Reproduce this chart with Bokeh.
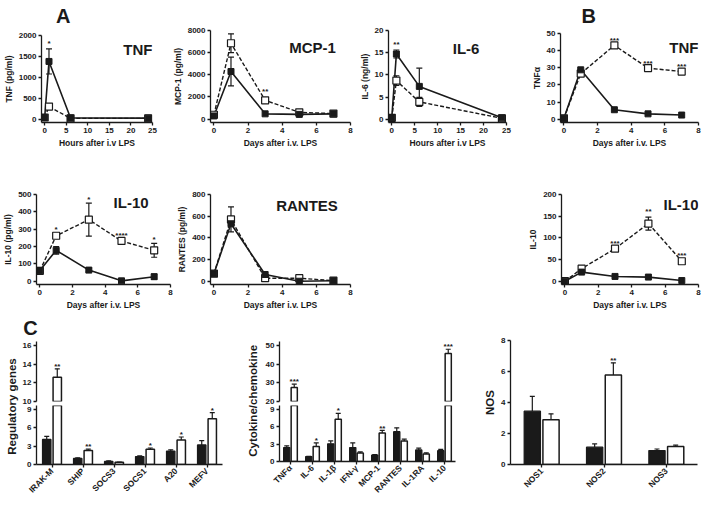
import numpy as np
from math import pi
from bokeh.plotting import figure
from bokeh.models import (Range1d, FactorRange, ColumnDataSource, Whisker, TeeHead,
                          Label, LabelSet, FixedTicker)
from bokeh.layouts import row, column
from bokeh.transform import dodge
from bokeh.core.properties import value
from bokeh.embed import file_html
from bokeh.resources import INLINE

FONT = "Liberation Sans"
INK = "#1a1a1a"

# ---------------- data ----------------
# A: TNF (hours)
tnf_hours = [0, 1, 6, 24]
tnf_ctrl = [40, 1380, 30, 25]
tnf_ctrl_err = [0, 300, 0, 0]
tnf_tol = [40, 300, 20, 20]
tnf_tol_err = [0, 0, 0, 0]
tnf_star_x, tnf_star_y, tnf_star_t = [1], [1800], ["*"]
tnf_xticks = [0, 5, 10, 15, 20, 25]
tnf_yticks = [0, 500, 1000, 1500, 2000]

# A: MCP-1 (days)
mcp_days = [0, 1, 3, 5, 7]
mcp_ctrl = [290, 4300, 480, 430, 480]
mcp_ctrl_err = [0, 1300, 0, 0, 0]
mcp_tol = [400, 6850, 1700, 620, 500]
mcp_tol_err = [0, 850, 0, 0, 0]
mcp_star_x, mcp_star_y, mcp_star_t = [3], [2500], ["**"]
day_xticks = [0, 2, 4, 6, 8]
mcp_yticks = [0, 2000, 4000, 6000, 8000]

# A: IL-6 (hours)
il6_hours = [0, 1, 6, 24]
il6_ctrl = [0.35, 14.7, 7.4, 0.3]
il6_ctrl_err = [0, 0.9, 4.1, 0]
il6_tol = [0.3, 8.7, 3.9, 0.2]
il6_tol_err = [0, 1.1, 1.0, 0]
il6_star_x, il6_star_y, il6_star_t = [1], [16.9], ["**"]
il6_xticks = [0, 5, 10, 15, 20, 25]
il6_yticks = [0, 5, 10, 15, 20]

# B: TNF (days)
btnf_days = [0, 1, 3, 5, 7]
btnf_ctrl = [0.5, 28.8, 5.5, 3.1, 2.4]
btnf_ctrl_err = [0, 0, 0, 0, 0]
btnf_tol = [0.5, 26.6, 43.1, 29.8, 27.8]
btnf_tol_err = [0, 0, 0, 0, 0]
btnf_star_x, btnf_star_y, btnf_star_t = [3, 5, 7], [45.8, 32.6, 30.5], ["***", "***", "***"]
btnf_yticks = [0, 10, 20, 30, 40, 50]

# A: IL-10 (days)
il10_days = [0, 1, 3, 5, 7]
il10_ctrl = [62, 178, 64, 2, 26]
il10_ctrl_err = [0, 22, 8, 0, 15]
il10_tol = [60, 262, 355, 232, 178]
il10_tol_err = [0, 15, 95, 8, 40]
il10_star_x, il10_star_y, il10_star_t = [1, 3, 5, 7], [298, 470, 262, 238], ["*", "*", "****", "*"]
il10_yticks = [0, 100, 200, 300, 400, 500]

# A: RANTES (days)
rantes_days = [0, 1, 3, 5, 7]
rantes_ctrl = [70, 530, 62, 0, 5]
rantes_ctrl_err = [0, 0, 0, 0, 0]
rantes_tol = [70, 570, 28, 28, 5]
rantes_tol_err = [0, 115, 0, 0, 0]
rantes_yticks = [0, 200, 400, 600, 800]

# B: IL-10 (days)
bil10_days = [0, 1, 3, 5, 7]
bil10_ctrl = [0, 21, 11, 9.5, 1.5]
bil10_ctrl_err = [0, 0, 0, 0, 0]
bil10_tol = [0, 29, 75, 133, 46]
bil10_tol_err = [0, 0, 0, 15, 0]
bil10_star_x, bil10_star_y, bil10_star_t = [3, 5, 7], [88, 160, 60], ["***", "**", "***"]
bil10_yticks = [0, 50, 100, 150, 200]

# C: regulatory genes
reg_genes = ["IRAK-M", "SHIP", "SOCS3", "SOCS1", "A20", "MEFV"]
reg_ctrl = [4.1, 1.0, 0.5, 1.3, 2.2, 3.2]
reg_ctrl_err = [0.5, 0.1, 0.1, 0.1, 0.2, 0.7]
reg_tol = [12.6, 2.3, 0.35, 2.5, 4.0, 7.5]
reg_tol_err = [0.9, 0.2, 0.05, 0.2, 0.5, 1.0]
reg_stars = ["**", "**", "", "*", "*", "*"]
reg_low_ticks = [0, 3, 6, 9]
reg_up_ticks = [10, 12, 14, 16]

# C: cytokine / chemokine
cyt_names = ["TNFα", "IL-6", "IL-1β", "IFN-γ", "MCP-1", "RANTES", "IL-1RA", "IL-10"]
cyt_ctrl = [2.4, 0.85, 3.05, 2.4, 1.1, 5.15, 2.0, 1.85]
cyt_ctrl_err = [0.3, 0.05, 0.5, 0.8, 0.1, 0.65, 0.3, 0.25]
cyt_tol = [27.5, 2.6, 7.3, 1.45, 4.9, 3.55, 1.3, 45.7]
cyt_tol_err = [1.8, 0.6, 1.0, 0.2, 0.45, 0.3, 0.2, 2.3]
cyt_stars = ["***", "*", "*", "", "**", "", "", "***"]
cyt_low_ticks = [0, 3, 6, 9]
cyt_up_ticks = [20, 30, 40, 50]

# C: NOS
nos_names = ["NOS1", "NOS2", "NOS3"]
nos_ctrl = [3.44, 1.12, 0.9]
nos_ctrl_err = [0.95, 0.21, 0.1]
nos_tol = [2.88, 5.78, 1.16]
nos_tol_err = [0.39, 0.78, 0.09]
nos_stars = ["", "**", ""]
nos_ticks = [0, 2, 4, 6, 8]


# ---------------- helpers ----------------
def base_fig(w, h, l, r, t, b, xr, yr, **kw):
    p = figure(width=w, height=h, x_range=xr, y_range=yr, output_backend="svg",
               toolbar_location=None, min_border_left=l, min_border_right=r,
               min_border_top=t, min_border_bottom=b, **kw)
    p.outline_line_color = None
    p.grid.visible = False
    p.border_fill_color = "white"
    p.background_fill_color = "white"
    for ax in p.axis:
        ax.axis_line_color = INK
        ax.axis_line_width = 1.3
        ax.major_tick_line_color = INK
        ax.major_tick_line_width = 1.3
        ax.major_tick_out = 3
        ax.major_tick_in = 0
        ax.minor_tick_line_color = None
        ax.major_label_text_font = FONT
        ax.major_label_text_font_size = "8px"
        ax.major_label_text_font_style = "bold"
        ax.major_label_text_color = INK
        ax.major_label_standoff = 2
        ax.axis_label_text_font = FONT
        ax.axis_label_text_font_size = "8.5px"
        ax.axis_label_text_font_style = "bold"
        ax.axis_label_text_color = INK
        ax.axis_label_standoff = 2
    return p


def add_label(p, x, y, text, size="15px", align="right", angle=0):
    p.add_layout(Label(x=x, y=y, text=text, text_font=FONT,
                       text_font_size=size, text_font_style="bold", text_color=INK,
                       text_align=align, text_baseline="middle", angle=angle))


def add_err(p, x, vals, errs):
    idx = [i for i in range(len(vals)) if errs[i] > 0]
    if not idx:
        return
    src = ColumnDataSource(dict(x=[x[i] for i in idx],
                                up=[vals[i] + errs[i] for i in idx],
                                lo=[vals[i] - errs[i] for i in idx]))
    p.add_layout(Whisker(source=src, base="x", upper="up", lower="lo",
                         line_color=INK, line_width=1.2,
                         upper_head=TeeHead(size=6, line_color=INK, line_width=1.2),
                         lower_head=TeeHead(size=6, line_color=INK, line_width=1.2)))


def add_stars(p, xs, ys, ts):
    src = ColumnDataSource(dict(x=xs, y=ys, t=ts))
    p.add_layout(LabelSet(x="x", y="y", text="t", source=src,
                          text_font=value(FONT), text_font_size=value("8px"),
                          text_font_style="bold", text_color=INK, text_align="center",
                          text_baseline="middle"))


def line_panel(w, h, l, r, t, b, xticks, yticks, xlabel, ylabel, x, ctrl, cerr, tol, terr):
    W = w - l - r
    H = h - t - b
    xmax, ymax = xticks[-1], yticks[-1]
    p = base_fig(w, h, l, r, t, b, Range1d(-3.5 * xmax / W, xmax), Range1d(-3.5 * ymax / H, ymax))
    p.xaxis.ticker = FixedTicker(ticks=xticks)
    p.yaxis.ticker = FixedTicker(ticks=yticks)
    p.xaxis.axis_label = xlabel
    p.yaxis.axis_label = ylabel
    p.line(x, tol, line_dash="4 2", line_width=1.4, line_color=INK)
    p.line(x, ctrl, line_width=1.6, line_color=INK)
    add_err(p, x, ctrl, cerr)
    add_err(p, x, tol, terr)
    p.scatter(x, tol, marker="square", size=7, fill_color="white", line_color=INK, line_width=1.2)
    p.scatter(x, ctrl, marker="square", size=6, fill_color=INK, line_color=INK)
    return p


def bar_panel(w, h, l, r, t, b, xr, yticks, cats, ctrl, cerr, tol, terr, stars, show_x, d, bw,
              ylabel=None, ylabel_size="11.5px", ext=0):
    y0, y1 = yticks[0], yticks[-1]
    H = h - t - b                      # frame height spanned by the ticks
    upp = (y1 - y0) / H                # data units per pixel
    p = base_fig(w, h, l, r, t - ext, b, xr, Range1d(y0, y1 + ext * upp))
    p.yaxis.ticker = FixedTicker(ticks=yticks)
    if show_x:
        p.xaxis.major_label_orientation = pi / 4
        p.xaxis.major_label_text_font_size = "8.5px"
    else:
        p.xaxis.visible = False
    if ylabel:
        p.yaxis.axis_label = ylabel
        p.yaxis.axis_label_text_font_size = ylabel_size
    for off, vals, errs, fill, lw in [(-d, ctrl, cerr, INK, 1.3), (d, tol, terr, "white", 1.5)]:
        bars = [i for i in range(len(cats)) if vals[i] > y0]
        if bars:
            bsrc = ColumnDataSource(dict(cat=[cats[i] for i in bars], top=[vals[i] for i in bars]))
            p.vbar(x=dodge("cat", off, range=xr), top="top", bottom=0, width=bw, source=bsrc,
                   fill_color=fill, line_color=INK, line_width=lw)
        keep = [i for i in range(len(cats)) if y0 <= vals[i] + errs[i] <= y1 and errs[i] > 0]
        if keep:
            wsrc = ColumnDataSource(dict(cat=[cats[i] for i in keep],
                                         up=[vals[i] + errs[i] for i in keep],
                                         lo=[vals[i] for i in keep]))
            p.add_layout(Whisker(source=wsrc, base=dodge("cat", off, range=xr), upper="up", lower="lo",
                                 line_color=INK, line_width=1.2,
                                 upper_head=TeeHead(size=5, line_color=INK, line_width=1.2),
                                 lower_head=None))
    keep = [i for i in range(len(cats)) if stars[i] and y0 <= tol[i] + terr[i] <= y1]
    if keep:
        ssrc = ColumnDataSource(dict(cat=[cats[i] for i in keep],
                                     y=[tol[i] + terr[i] + 2.5 * upp for i in keep],
                                     t=[stars[i] for i in keep]))
        p.add_layout(LabelSet(x=dodge("cat", d, range=xr), y="y", text="t", source=ssrc,
                              text_font=value(FONT), text_font_size=value("8px"),
                              text_font_style="bold", text_color=INK, text_align="center",
                              text_baseline="middle"))
    return p


def blank_fig(w, h):
    p = figure(width=w, height=h, x_range=Range1d(0, w), y_range=Range1d(0, h),
               x_axis_type=None, y_axis_type=None, output_backend="svg", toolbar_location=None,
               min_border_left=0, min_border_right=0, min_border_top=0, min_border_bottom=0)
    p.outline_line_color = None
    p.border_fill_color = "white"
    p.background_fill_color = "white"
    return p


def label_fig(w, h, x, y, text):
    p = blank_fig(w, h)
    add_label(p, x, y, text, size="11.5px", align="center", angle=pi / 2)
    return p


def letter_fig(w, h, x, y, text):
    p = blank_fig(w, h)
    add_label(p, x, y, text, size="20px", align="center")
    return p


HOURS = "Hours after i.v LPS"
DAYS = "Days after i.v. LPS"

# ---------------- row 1 ----------------
f_tnf = line_panel(164, 124, 33, 12, 9, 27, tnf_xticks, tnf_yticks, HOURS, "TNF (pg/ml)",
                   tnf_hours, tnf_ctrl, tnf_ctrl_err, tnf_tol, tnf_tol_err)
add_stars(f_tnf, tnf_star_x, tnf_star_y, tnf_star_t)
add_label(f_tnf, 25, 1660, "TNF")
strip_a = letter_fig(164, 26, 32, 11, "A")

f_mcp = line_panel(192, 150, 46, 6, 30, 27, day_xticks, mcp_yticks, DAYS, "MCP-1 (pg/ml)",
                   mcp_days, mcp_ctrl, mcp_ctrl_err, mcp_tol, mcp_tol_err)
add_stars(f_mcp, mcp_star_x, mcp_star_y, mcp_star_t)
add_label(f_mcp, 7.14, 6450, "MCP-1")

f_il6 = line_panel(166, 150, 28, 16, 29, 27, il6_xticks, il6_yticks, HOURS, "IL-6 (ng/ml)",
                   il6_hours, il6_ctrl, il6_ctrl_err, il6_tol, il6_tol_err)
add_stars(f_il6, il6_star_x, il6_star_y, il6_star_t)
add_label(f_il6, 19.1, 16, "IL-6")

f_btnf = line_panel(179, 124, 38, 3, 7, 27, day_xticks, btnf_yticks, DAYS, "TNFα",
                    btnf_days, btnf_ctrl, btnf_ctrl_err, btnf_tol, btnf_tol_err)
add_stars(f_btnf, btnf_star_x, btnf_star_y, btnf_star_t)
add_label(f_btnf, 8, 42, "TNF")
strip_b = letter_fig(179, 26, 36.5, 10.5, "B")

# ---------------- row 2 ----------------
f_il10 = line_panel(174, 162, 33, 4, 44, 26, day_xticks, il10_yticks, DAYS, "IL-10 (pg/ml)",
                    il10_days, il10_ctrl, il10_ctrl_err, il10_tol, il10_tol_err)
add_stars(f_il10, il10_star_x, il10_star_y, il10_star_t)
add_label(f_il10, 6.66, 451, "IL-10")

f_rantes = line_panel(348, 162, 36, 172, 42, 27, day_xticks, rantes_yticks, DAYS, "RANTES (pg/ml)",
                      rantes_days, rantes_ctrl, rantes_ctrl_err, rantes_tol, rantes_tol_err)
add_label(f_rantes, 7.26, 697, "RANTES")

f_bil10 = line_panel(179, 162, 39, 3, 44, 26, day_xticks, bil10_yticks, DAYS, "IL-10",
                     bil10_days, bil10_ctrl, bil10_ctrl_err, bil10_tol, bil10_tol_err)
add_stars(f_bil10, bil10_star_x, bil10_star_y, bil10_star_t)
add_label(f_bil10, 8, 176, "IL-10")

# ---------------- row 3 ----------------
reg_range = FactorRange(factors=reg_genes)
reg_up = bar_panel(213, 67, 14, 10, 7, 4, reg_range, reg_up_ticks, reg_genes,
                   reg_ctrl, reg_ctrl_err, reg_tol, reg_tol_err, reg_stars, False, 0.17, 0.27, ext=4)
reg_low = bar_panel(213, 96, 14, 10, 4, 37, reg_range, reg_low_ticks, reg_genes,
                    reg_ctrl, reg_ctrl_err, reg_tol, reg_tol_err, reg_stars, True, 0.17, 0.27, ext=4)
lab_reg = label_fig(19, 163, 11, 95, "Regulatory genes")
strip_c = letter_fig(232, 26, 30, 11, "C")

cyt_range = FactorRange(factors=cyt_names)
cyt_up = bar_panel(210, 93, 14, 17, 33, 4, cyt_range, cyt_up_ticks, cyt_names,
                   cyt_ctrl, cyt_ctrl_err, cyt_tol, cyt_tol_err, cyt_stars, False, 0.17, 0.28, ext=4)
cyt_low = bar_panel(210, 96, 14, 17, 4, 37, cyt_range, cyt_low_ticks, cyt_names,
                    cyt_ctrl, cyt_ctrl_err, cyt_tol, cyt_tol_err, cyt_stars, True, 0.17, 0.28, ext=4)
lab_cyt = label_fig(30, 189, 20, 97, "Cytokine/chemokine")

nos_range = FactorRange(factors=nos_names)
f_nos = bar_panel(229, 189, 38, 4, 28, 37, nos_range, nos_ticks, nos_names,
                  nos_ctrl, nos_ctrl_err, nos_tol, nos_tol_err, nos_stars, True, 0.15, 0.26,
                  ylabel="NOS")

layout = column(
    row(column(strip_a, f_tnf), f_mcp, f_il6, column(strip_b, f_btnf)),
    row(f_il10, f_rantes, f_bil10),
    row(column(strip_c, row(lab_reg, column(reg_up, reg_low))), lab_cyt,
        column(cyt_up, cyt_low), f_nos),
)

open("out.html", "w").write(file_html(layout, INLINE))
